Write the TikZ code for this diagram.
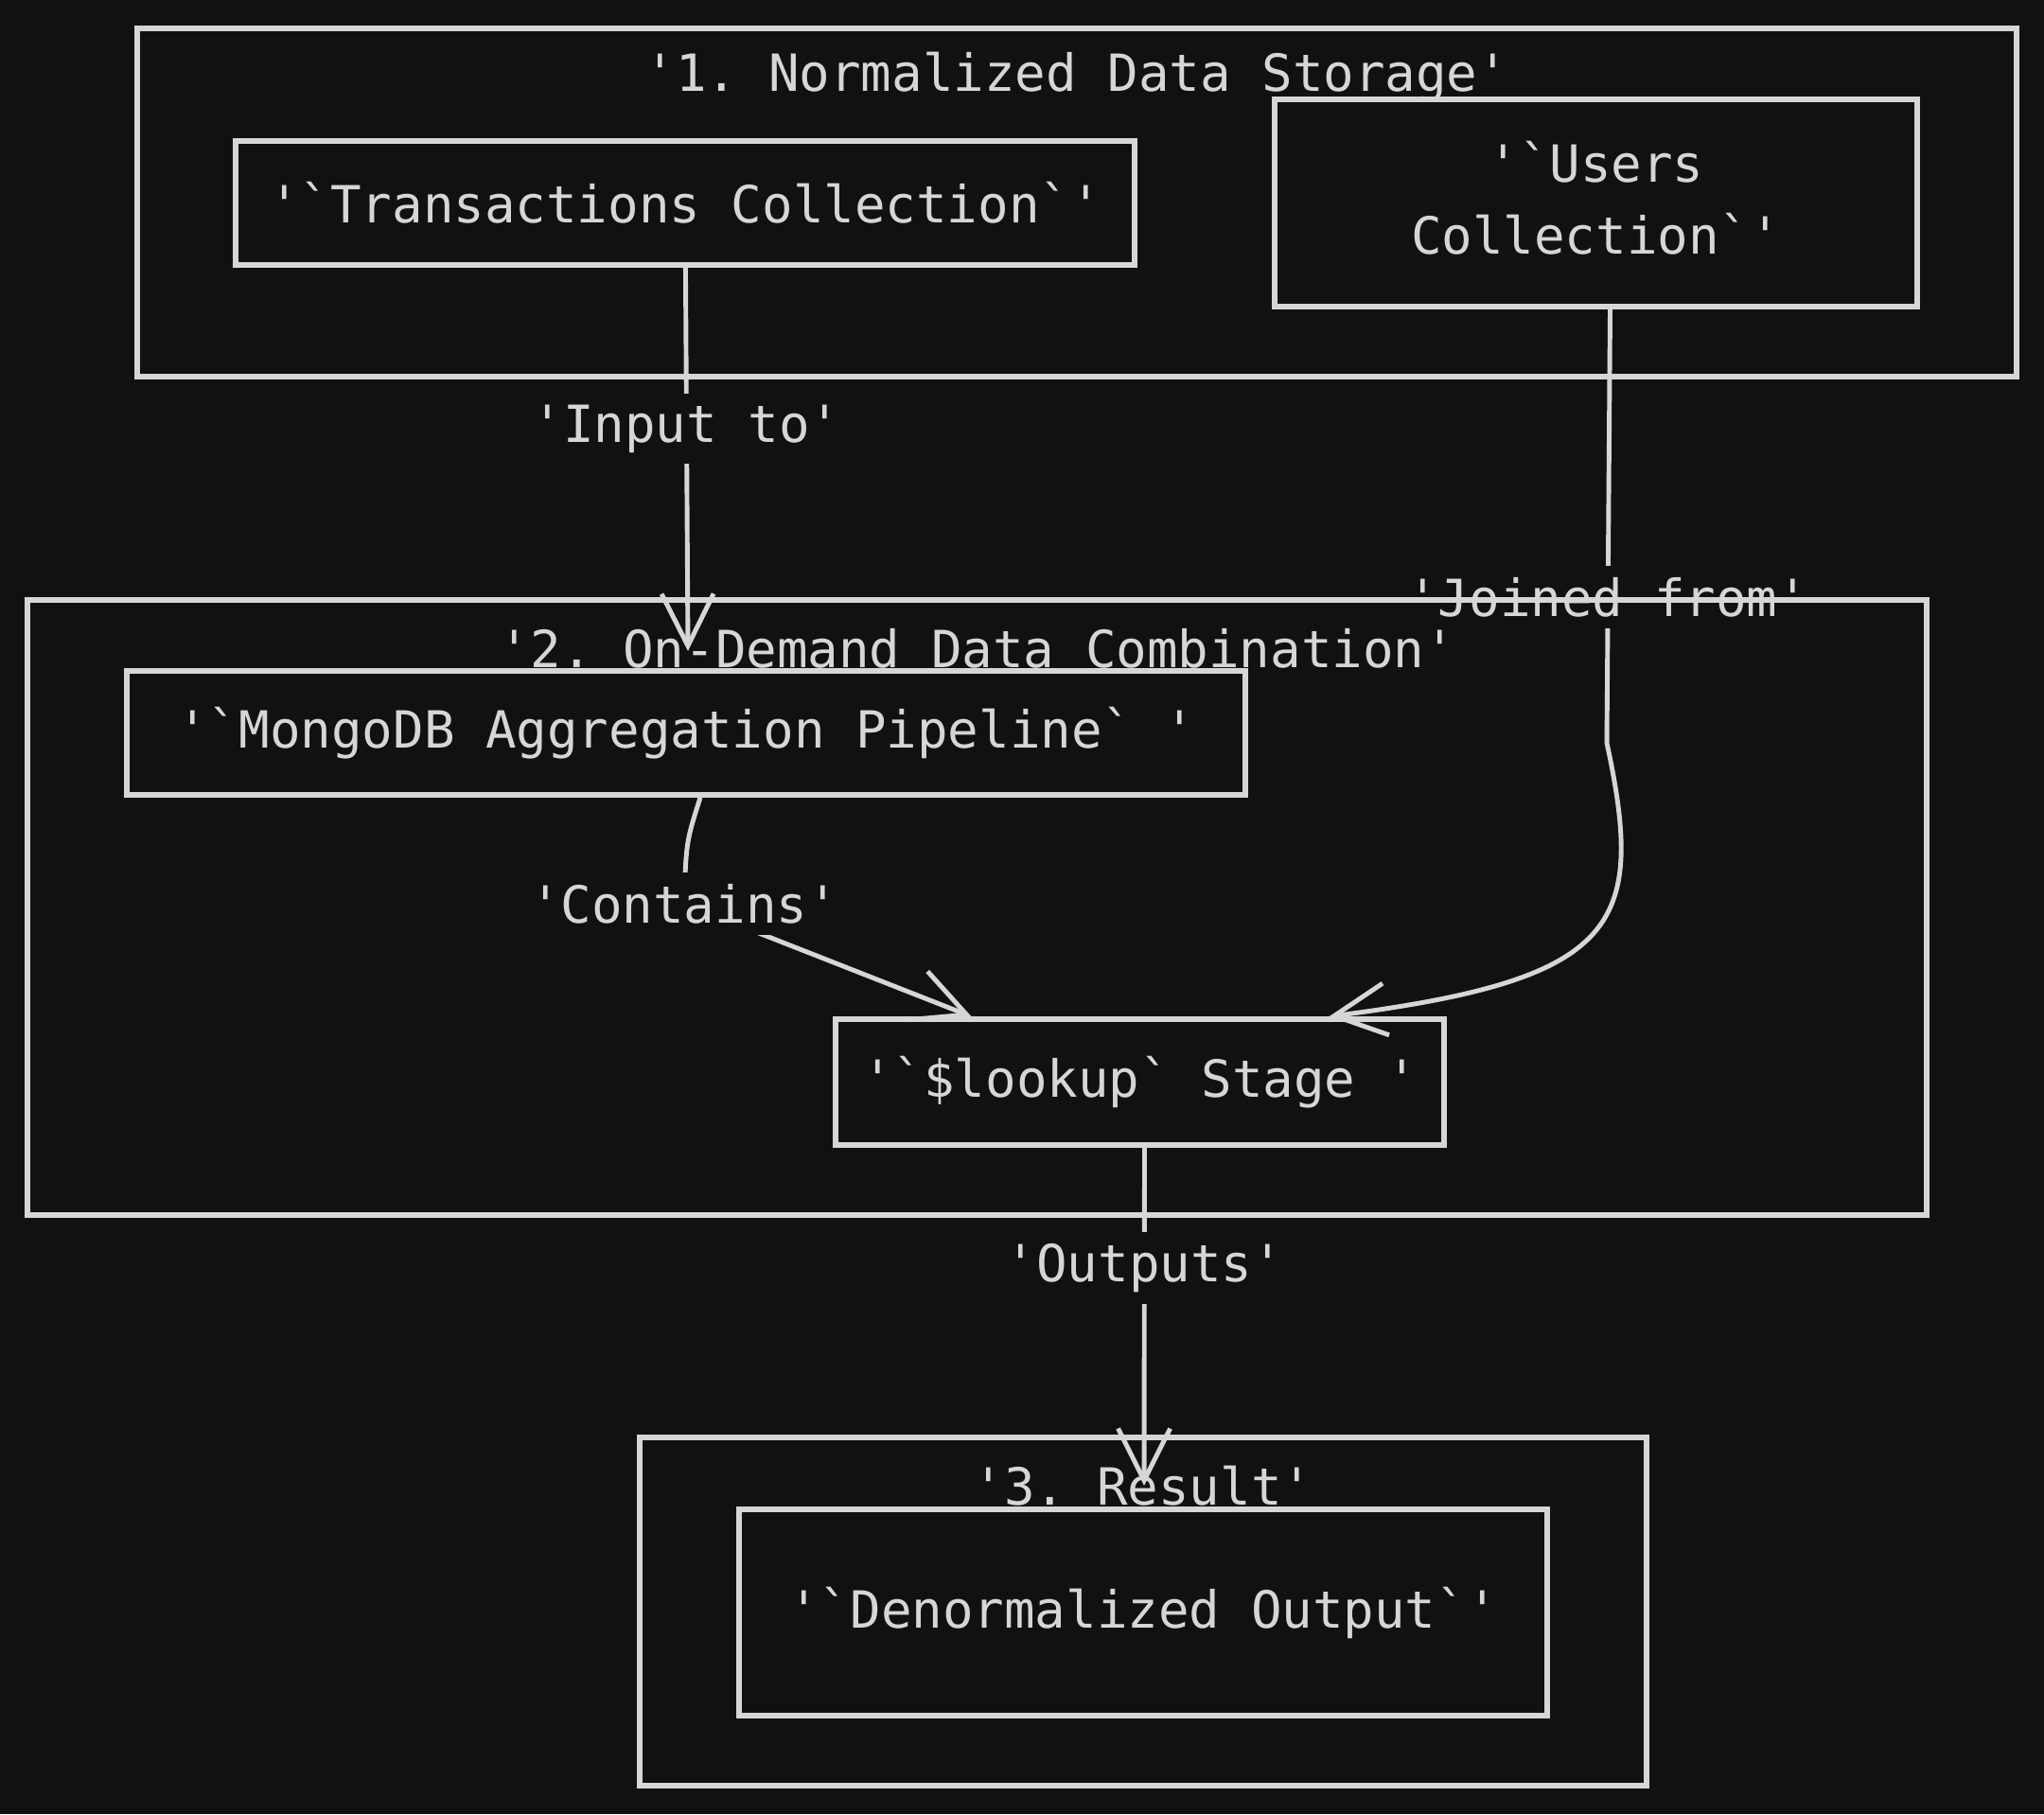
\documentclass[tikz,border=0pt]{standalone}
\usepackage{fontspec}
\setmonofont{DejaVu Sans Mono}
\usetikzlibrary{arrows.meta,positioning}
\definecolor{bgc}{HTML}{111111}
\definecolor{ink}{HTML}{D6D6D6}

\begin{document}
\begin{tikzpicture}[
    comp/.style={draw=ink, line width=1.6pt, text=ink, align=center, inner sep=0pt},
    cluster/.style={draw=ink, line width=1.6pt, inner sep=0pt},
    title/.style={text=ink},
    lbl/.style={fill=bgc, text=ink, inner sep=1.2mm},
    arrow/.style={draw=ink, line width=1.4pt, -{Straight Barb[length=5.5mm,width=5.5mm]}},
    font=\ttfamily\fontsize{15.4}{21.6}\selectfont
]
\fill[bgc] (0,0) rectangle (21.6,-19.17);
\useasboundingbox (0,0) rectangle (21.6,-19.17);

% subgraph titles
\node[title] (t1) at (11.38,-0.82) {'1. Normalized Data Storage'};
\node[title] (t2) at (10.33,-6.85) {'2. On-Demand Data Combination'};
\node[title] (t3) at (12.08,-15.70) {'3. Result'};

% collections and stages
\node[comp, minimum width=9.5cm, minimum height=1.31cm] (trans) at (7.24,-2.145) {'`Transactions Collection`'};
\node[comp, minimum width=6.79cm, minimum height=2.19cm, text depth=0.12cm] (users) at (16.865,-2.145) {'`Users\\Collection`'};
\node[comp, minimum width=11.82cm, minimum height=1.31cm] (pipeline) at (7.25,-7.745) {'`MongoDB Aggregation Pipeline` '};
\node[comp, minimum width=6.43cm, minimum height=1.33cm] (lookup) at (12.045,-11.435) {'`\$lookup` Stage '};
\node[comp, minimum width=8.54cm, minimum height=2.18cm] (denorm) at (12.08,-17.04) {'`Denormalized Output`'};

% free arrow ends on the subgraphs
\coordinate (in2) at (7.27,-6.88);
\coordinate (res) at (12.09,-15.70);

% arrows
\draw[arrow] (trans) -- node[lbl, pos=0.42] (l1) {'Input to'} (in2);
\draw[arrow] ([xshift=0.15cm]users.south) -- node[lbl, pos=0.664] (l2) {'Joined from'} (16.98,-7.85)
    .. controls (17.4,-9.8) and (17.1,-10.35) .. ([xshift=2cm]lookup.north);
\draw[arrow] ([xshift=0.15cm]pipeline.south) .. controls (7.25,-8.9) .. (7.23,-9.55) node[lbl] (l3) {'Contains'}
    -- ([xshift=-1.78cm]lookup.north);
\draw[arrow] ([xshift=0.05cm]lookup.south) -- node[lbl, pos=0.356] (l4) {'Outputs'} (res);

% subgraph frames (on top, they cross the labels)
\node[cluster, minimum width=19.86cm, minimum height=3.68cm] (storage) at (11.38,-2.14) {};
\node[cluster, minimum width=20.07cm, minimum height=6.50cm] (combine) at (10.325,-9.59) {};
\node[cluster, minimum width=10.64cm, minimum height=3.68cm] (result) at (12.08,-17.03) {};

\end{tikzpicture}
\end{document}
